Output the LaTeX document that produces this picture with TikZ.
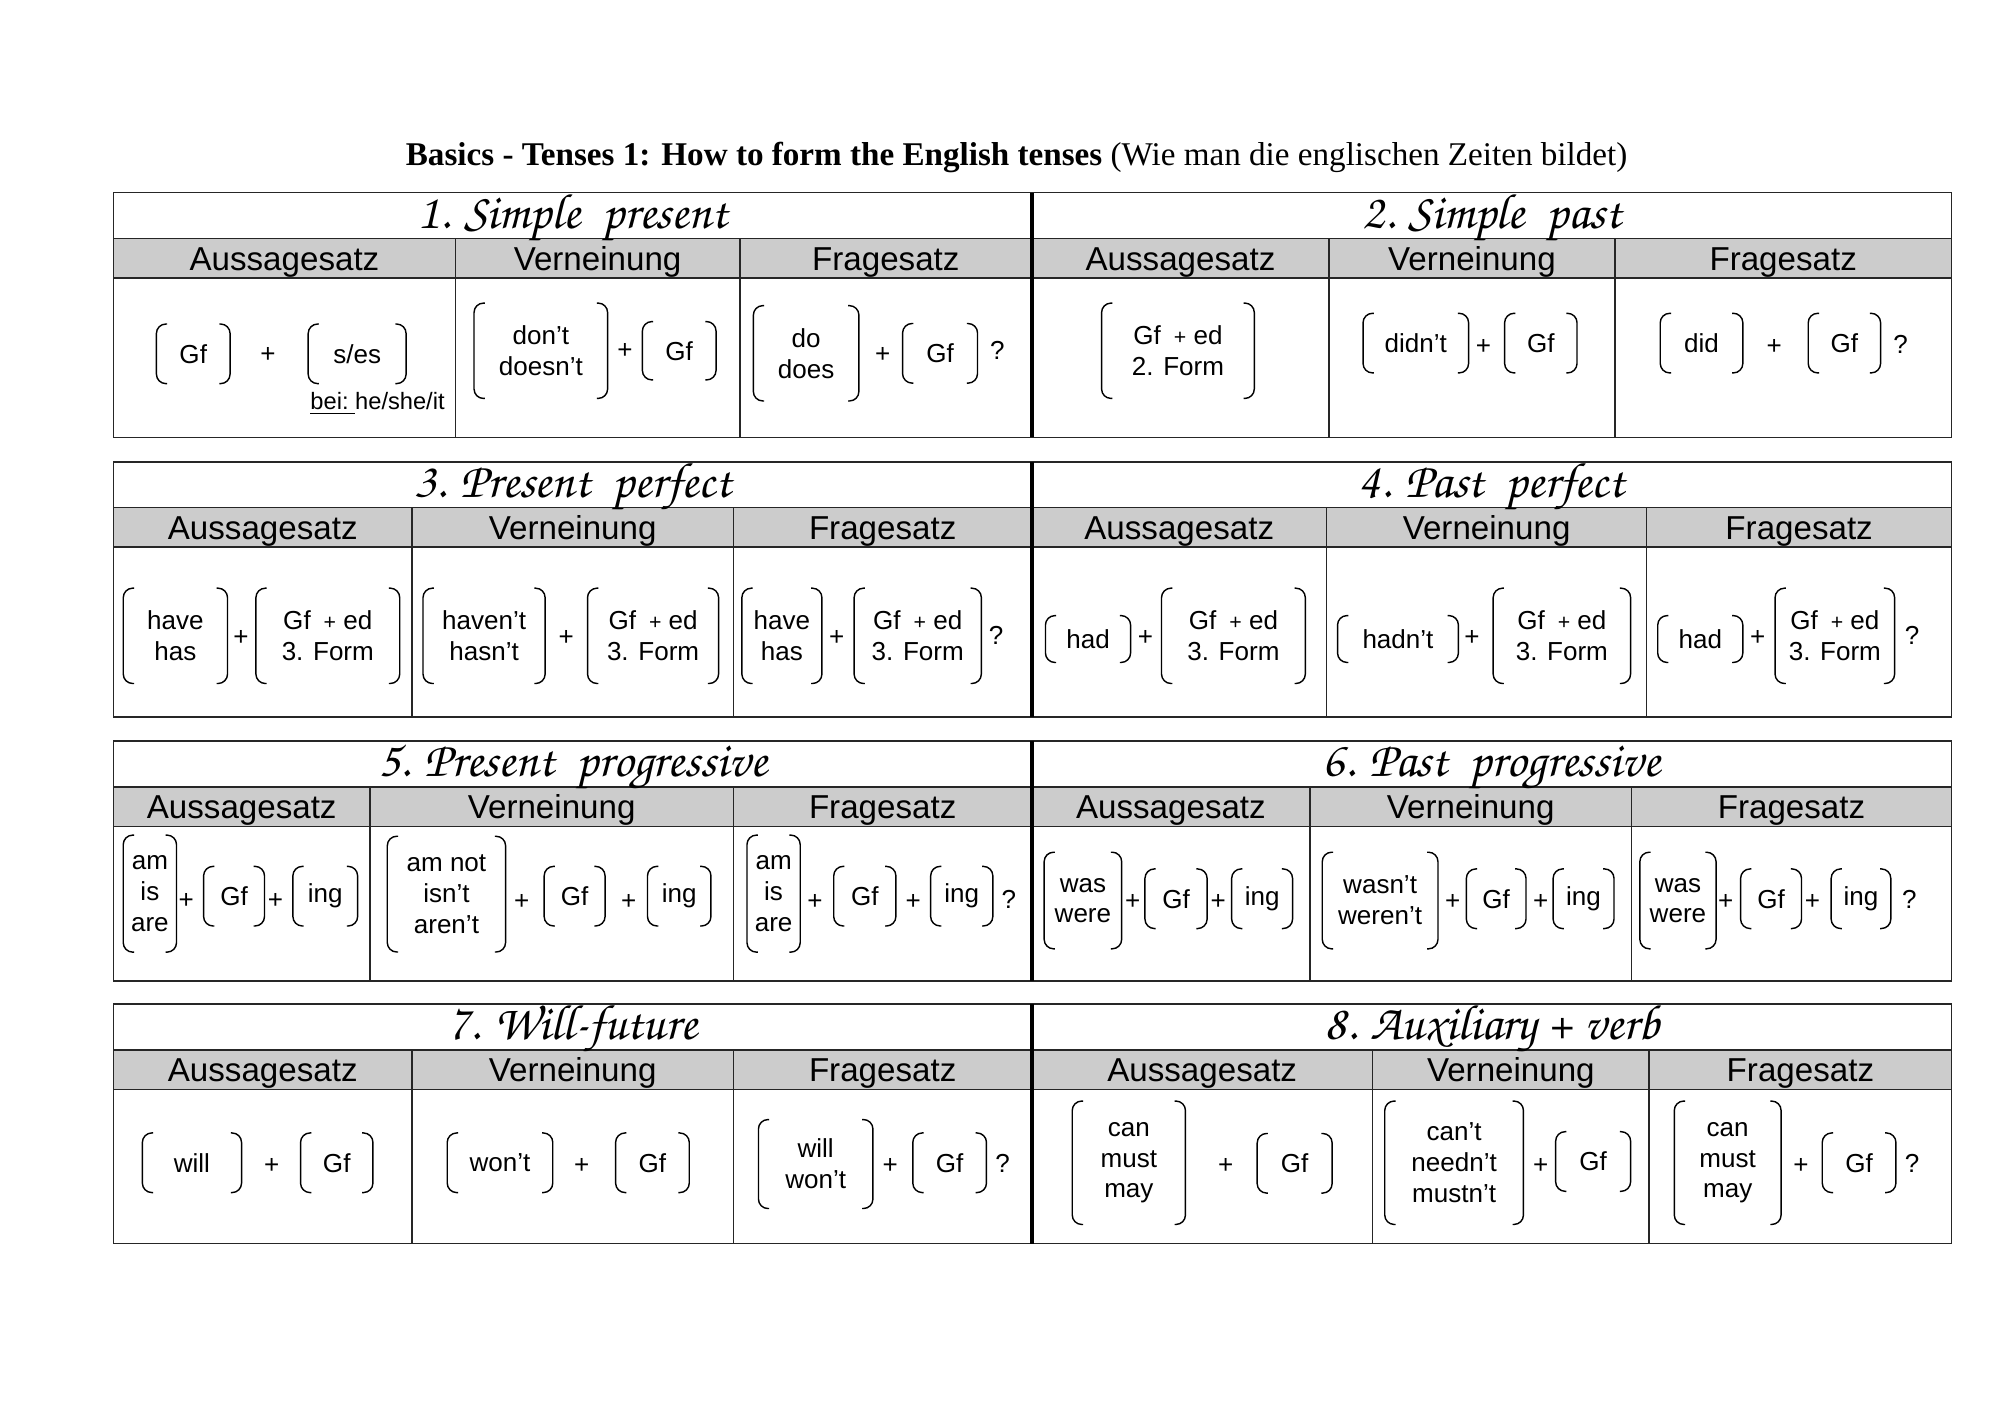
\documentclass[tikz,border=0pt]{standalone}
\usepackage[T1]{fontenc}
\usepackage{fontspec}
\setmainfont{Liberation Sans}
\newfontfamily\serifttl{Liberation Serif}
\newcommand\callfont{\fontencoding{T1}\fontfamily{pzc}\fontseries{m}\fontshape{it}\selectfont}
\newcommand\px{0.18941mm}
\tikzset{
  rowline/.style={line width=0.65pt, draw=black!85},
  midline/.style={line width=1.8pt},
  headfill/.style={fill=black!20},
  tensettl/.style={font=\callfont\fontsize{21}{24}\selectfont, anchor=base, inner sep=0pt},
  colhead/.style={font=\fontsize{14}{16}\selectfont, anchor=base, inner sep=0pt},
  grp/.style 2 args={minimum width=#1*\px, minimum height=#2*\px, inner sep=0pt, align=center, font=\fontsize{11}{13}\selectfont},
  plus/.style={font=\fontsize{11}{13}\selectfont, inner sep=0pt},
  brkline/.style={line width=0.6pt, rounded corners=1.4mm},
}
\begin{document}
\begin{tikzpicture}[x=\px, y=-\px]
\useasboundingbox (0,0) rectangle (1568,1108.6);

\node[anchor=base] (ttl) at (797,130) {\serifttl\fontsize{14}{16}\selectfont\textbf{Basics - Tenses 1: How to form the English tenses} (Wie man die englischen Zeiten bildet)};

\foreach \k/\t/\b/\ca/\cb/\cc/\cd in {1/151/343/357/580/1042/1266, 2/362/562/323/575/1040/1291, 3/581/769/290/575/1027/1279, 4/787/975/323/575/1076/1293}{
  \fill[headfill] (89,\t+36) rectangle (1530,\t+67);
  \draw[rowline] (89,\t) rectangle (1530,\b);
  \draw[rowline] (89,\t+36) -- (1530,\t+36) (89,\t+67) -- (1530,\t+67);
  \draw[rowline] (\ca,\t+36) -- (\ca,\b) (\cb,\t+36) -- (\cb,\b) (\cc,\t+36) -- (\cc,\b) (\cd,\t+36) -- (\cd,\b);
  \draw[midline] (809,\t) -- (809,\b);
  \node[colhead] (hA\k) at ({(89+\ca)/2},\t+61) {Aussagesatz};
  \node[colhead] (hV\k) at ({(\ca+\cb)/2},\t+61) {Verneinung};
  \node[colhead] (hF\k) at ({(\cb+809)/2},\t+61) {Fragesatz};
  \node[colhead] (hA\k r) at ({(809+\cc)/2},\t+61) {Aussagesatz};
  \node[colhead] (hV\k r) at ({(\cc+\cd)/2},\t+61) {Verneinung};
  \node[colhead] (hF\k r) at ({(\cd+1530)/2},\t+61) {Fragesatz};
}

\node[tensettl] (t1) at (449,179) {1. Simple\ \ present};
\node[tensettl] (t2) at (1169.5,179) {2. Simple\ \ past};
\node[tensettl] (t3) at (449,390) {3. Present\ \ perfect};
\node[tensettl] (t4) at (1169.5,390) {4. Past\ \ perfect};
\node[tensettl] (t5) at (449,609) {5. Present\ \ progressive};
\node[tensettl] (t6) at (1169.5,609) {6. Past\ \ progressive};
\node[tensettl] (t7) at (449,815) {7. Will-future};
\node[tensettl] (t8) at (1169.5,815) {8. Auxiliary + verb};

\node[grp={57}{46}] (g1a1) at (151.5,277.4) {Gf};
\node[plus] (p1a) at (210,278) {+};
\node[grp={76}{46}] (g1a2) at (280,277.4) {s/es};
\node[plus, font=\fontsize{10}{12}\selectfont] (bei) at (296,316.6) {\underline{bei:\ }he/she/it};
\node[grp={104}{74}] (g1b1) at (424,275) {don’t\\doesn’t};
\node[plus] (p1b) at (490,275) {+};
\node[grp={57}{45}] (g1b2) at (532.5,275) {Gf};
\node[grp={82}{74}] (g1c1) at (632,277) {do\\does};
\node[plus] (p1c) at (692,278) {+};
\node[grp={58}{46}] (g1c2) at (737,277) {Gf};
\node[plus] (q1c) at (782,275) {?};
\node[grp={119}{74}] (g1d1) at (923.5,275) {Gf\enspace{\small +} ed\\2. Form};
\node[grp={82}{46}] (g1e1) at (1110,269) {didn’t};
\node[plus] (p1e) at (1163,272) {+};
\node[grp={56}{46}] (g1e2) at (1208,269) {Gf};
\node[grp={64}{46}] (g1f1) at (1334,269) {did};
\node[plus] (p1f) at (1391,272) {+};
\node[grp={56}{46}] (g1f2) at (1446,269) {Gf};
\node[plus] (q1f) at (1490,270) {?};

\node[grp={81}{74}] (g2a1) at (137.5,498.5) {have\\has};
\node[plus] (p2a) at (189,500) {+};
\node[grp={112}{74}] (g2a2) at (257,498.5) {Gf\enspace{\small +} ed\\3. Form};
\node[grp={95}{74}] (g2b1) at (379.5,498.5) {haven’t\\hasn’t};
\node[plus] (p2b) at (444,500) {+};
\node[grp={102}{74}] (g2b2) at (512,498.5) {Gf\enspace{\small +} ed\\3. Form};
\node[grp={62}{74}] (g2c1) at (613,498.5) {have\\has};
\node[plus] (p2c) at (656,500) {+};
\node[grp={99}{74}] (g2c2) at (719.5,498.5) {Gf\enspace{\small +} ed\\3. Form};
\node[plus] (q2c) at (781,498) {?};
\node[grp={66}{36}] (g2d1) at (853,501) {had};
\node[plus] (p2d) at (898,500) {+};
\node[grp={112}{74}] (g2d2) at (967,498.5) {Gf\enspace{\small +} ed\\3. Form};
\node[grp={94}{36}] (g2e1) at (1096,501) {hadn’t};
\node[plus] (p2e) at (1154,500) {+};
\node[grp={107}{74}] (g2e2) at (1224.5,498.5) {Gf\enspace{\small +} ed\\3. Form};
\node[grp={66}{36}] (g2f1) at (1333,501) {had};
\node[plus] (p2f) at (1378,500) {+};
\node[grp={93}{74}] (g2f2) at (1438.5,498.5) {Gf\enspace{\small +} ed\\3. Form};
\node[plus] (q2f) at (1499,498) {?};

\node[grp={41}{91}] (g3a1) at (117.5,700.6) {am\\is\\are};
\node[plus] (p3a1) at (146,706) {+};
\node[grp={47}{46}] (g3a2) at (183.5,702.6) {Gf};
\node[plus] (p3a2) at (216,706) {+};
\node[grp={50}{46}] (g3a3) at (255,702.6) {ing};
\node[grp={92}{90}] (g3b1) at (350,701) {am not\\isn’t\\aren’t};
\node[plus] (p3b1) at (409,707) {+};
\node[grp={47}{46}] (g3b2) at (450.5,702.6) {Gf};
\node[plus] (p3b2) at (493,707) {+};
\node[grp={49}{46}] (g3b3) at (532.5,702.6) {ing};
\node[grp={41}{91}] (g3c1) at (606.5,700.6) {am\\is\\are};
\node[plus] (p3c1) at (639,707) {+};
\node[grp={48}{46}] (g3c2) at (678,702.6) {Gf};
\node[plus] (p3c2) at (716,707) {+};
\node[grp={48}{46}] (g3c3) at (754,702.6) {ing};
\node[plus] (q3c) at (791,705) {?};
\node[grp={60}{75}] (g3d1) at (849,706) {was\\were};
\node[plus] (p3d1) at (888,707) {+};
\node[grp={48}{46}] (g3d2) at (922,704.6) {Gf};
\node[plus] (p3d2) at (955,707) {+};
\node[grp={47}{46}] (g3d3) at (989.5,704.6) {ing};
\node[grp={90}{75}] (g3e1) at (1082,706) {wasn’t\\weren’t};
\node[plus] (p3e1) at (1139,707) {+};
\node[grp={46}{46}] (g3e2) at (1173,704.6) {Gf};
\node[plus] (p3e2) at (1208,707) {+};
\node[grp={47}{46}] (g3e3) at (1241.5,704.6) {ing};
\node[grp={59}{75}] (g3f1) at (1315.5,706) {was\\were};
\node[plus] (p3f1) at (1353,707) {+};
\node[grp={47}{46}] (g3f2) at (1388.5,704.6) {Gf};
\node[plus] (p3f2) at (1421,707) {+};
\node[grp={46}{46}] (g3f3) at (1459,704.6) {ing};
\node[plus] (q3f) at (1497,705) {?};

\node[grp={77}{46}] (g4a1) at (150.5,911.6) {will};
\node[plus] (p4a) at (213,914) {+};
\node[grp={56}{46}] (g4a2) at (264,911.6) {Gf};
\node[grp={82}{46}] (g4b1) at (392,911.6) {won’t};
\node[plus] (p4b) at (456,914) {+};
\node[grp={57}{46}] (g4b2) at (511.5,911.6) {Gf};
\node[grp={89}{69}] (g4c1) at (639.5,912.6) {will\\won’t};
\node[plus] (p4c) at (698,914) {+};
\node[grp={57}{46}] (g4c2) at (744.5,911.6) {Gf};
\node[plus] (q4c) at (786,912) {?};
\node[grp={88}{96}] (g4d1) at (885,911.6) {can\\must\\may};
\node[plus] (p4d) at (961,914) {+};
\node[grp={58}{46}] (g4d2) at (1015,912) {Gf};
\node[grp={108}{96}] (g4e1) at (1140,911.6) {can’t\\needn’t\\mustn’t};
\node[plus] (p4e) at (1208,914) {+};
\node[grp={58}{46}] (g4e2) at (1249,910.6) {Gf};
\node[grp={83}{96}] (g4f1) at (1354.5,911.6) {can\\must\\may};
\node[plus] (p4f) at (1412,914) {+};
\node[grp={57}{46}] (g4f2) at (1457.5,911.6) {Gf};
\node[plus] (q4f) at (1499,912) {?};

\foreach \g in {g1a1,g1a2,g1b1,g1b2,g1c1,g1c2,g1d1,g1e1,g1e2,g1f1,g1f2,
  g2a1,g2a2,g2b1,g2b2,g2c1,g2c2,g2d1,g2d2,g2e1,g2e2,g2f1,g2f2,
  g3a1,g3a2,g3a3,g3b1,g3b2,g3b3,g3c1,g3c2,g3c3,g3d1,g3d2,g3d3,g3e1,g3e2,g3e3,g3f1,g3f2,g3f3,
  g4a1,g4a2,g4b1,g4b2,g4c1,g4c2,g4d1,g4d2,g4e1,g4e2,g4f1,g4f2}{
  \draw[brkline] ([xshift=1.6mm]\g.north west) -- (\g.north west) -- (\g.south west) -- ([xshift=1.6mm]\g.south west);
  \draw[brkline] ([xshift=-1.6mm]\g.north east) -- (\g.north east) -- (\g.south east) -- ([xshift=-1.6mm]\g.south east);
}

\end{tikzpicture}
\end{document}
